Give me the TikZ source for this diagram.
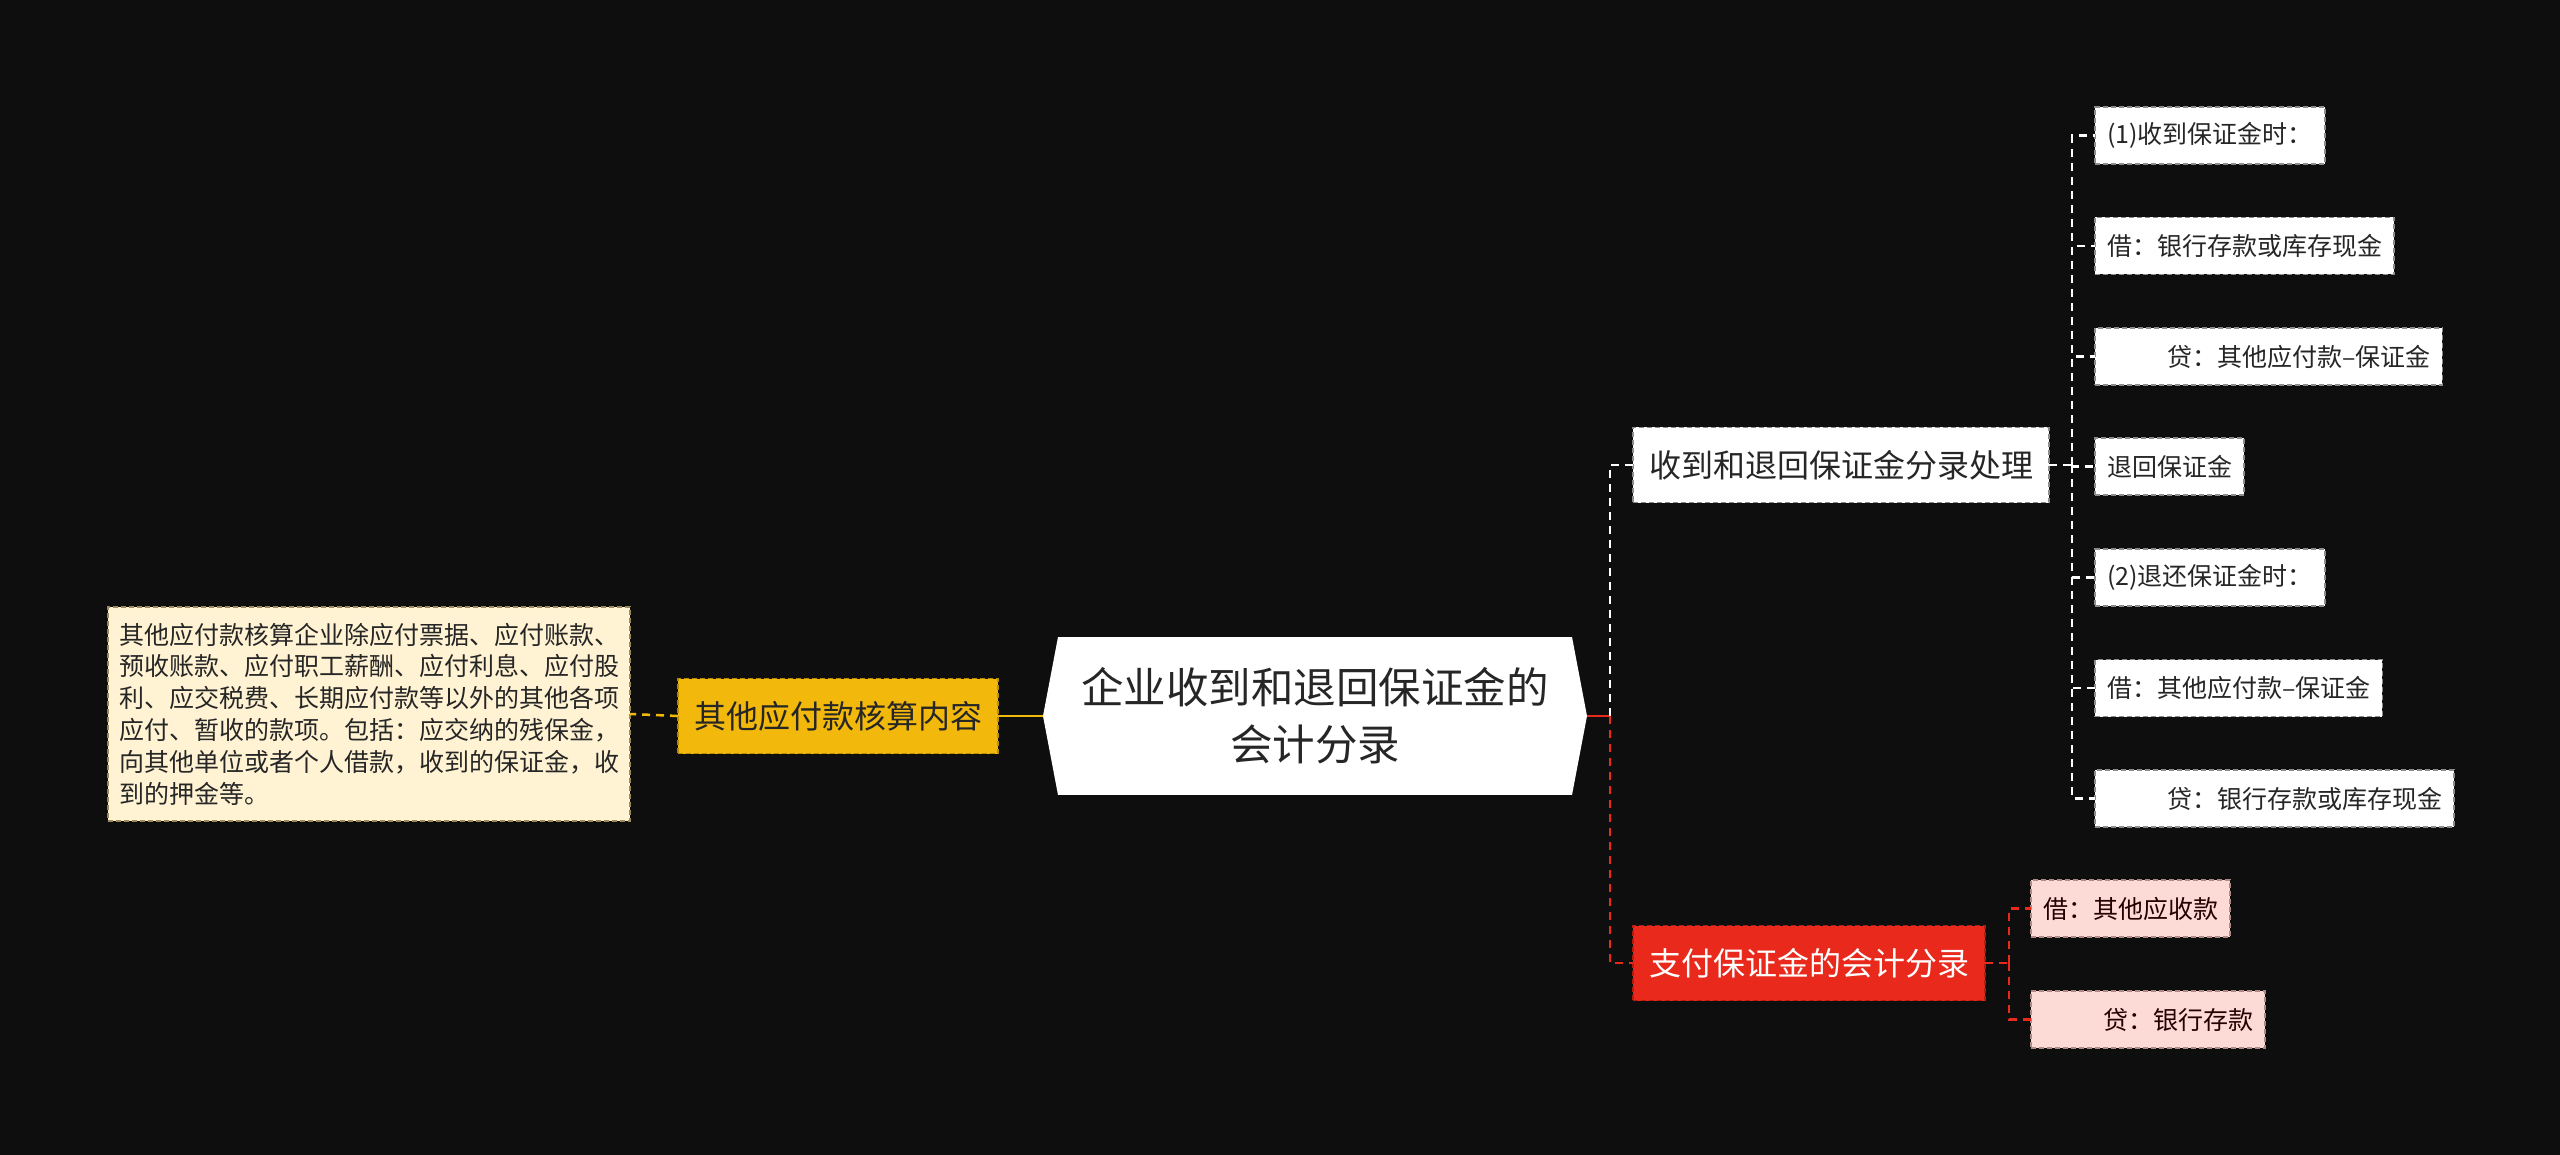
\documentclass[tikz,border=0pt]{standalone}
\usepackage{fontspec}
\usepackage{tikz}
\usetikzlibrary{calc}
\newfontfamily\cjk{Noto Sans CJK SC}

\definecolor{bgdark}{HTML}{0E0E0E}
\definecolor{txtdark}{HTML}{262626}
\definecolor{yel}{HTML}{F2B90C}
\definecolor{yelborder}{HTML}{B88A00}
\definecolor{cream}{HTML}{FFF3D3}
\definecolor{creamborder}{HTML}{9C8A5C}
\definecolor{redfill}{HTML}{E8291C}
\definecolor{redborder}{HTML}{B01C12}
\definecolor{pink}{HTML}{FCDBD7}
\definecolor{pinkborder}{HTML}{B08A86}
\definecolor{greyborder}{HTML}{8C8C8C}

\begin{document}
\begin{tikzpicture}[
    x=1pt, y=-1pt,
    every node/.style={inner sep=0pt, outer sep=0pt},
    boxline/.style={dash pattern=on 5pt off 3pt, line width=1.5pt},
    rootbox/.style={rectangle, fill=white, minimum width=514pt, minimum height=158pt, align=center, text=txtdark, font=\cjk\fontsize{42.5}{57}\selectfont},
    notebox/.style={rectangle, boxline, draw=creamborder, fill=cream, text width=500pt, inner xsep=11pt, minimum height=214pt, align=left, text=txtdark, font=\cjk\fontsize{25}{31.8}\selectfont},
    yelbox/.style={rectangle, boxline, draw=yelborder, fill=yel, minimum height=75pt, inner xsep=16pt, text=txtdark, font=\cjk\fontsize{32}{38}\selectfont},
    whitebox/.style={rectangle, boxline, draw=greyborder, fill=white, minimum height=75pt, inner xsep=16pt, text=txtdark, font=\cjk\fontsize{32}{38}\selectfont},
    redbox/.style={rectangle, boxline, draw=redborder, fill=redfill, minimum height=75pt, inner xsep=16pt, text=white, font=\cjk\fontsize{32}{38}\selectfont},
    leaf/.style={rectangle, boxline, draw=greyborder, fill=white, minimum height=57pt, inner xsep=12pt, anchor=west, text=txtdark, font=\cjk\fontsize{25}{30}\selectfont},
    pinkleaf/.style={leaf, draw=pinkborder, fill=pink, text=black!85!red},
    wline/.style={draw=white, line width=2.5pt, dash pattern=on 8pt off 6pt},
    rline/.style={draw=redfill, line width=2.5pt, dash pattern=on 8pt off 6pt},
    yline/.style={draw=yel, line width=2.5pt}
]
\useasboundingbox (0,0) rectangle (2560,1155);
\fill[bgdark] (0,0) rectangle (2560,1155);

% centre topic
\node[rootbox] (root) at (1315,716) {企业收到和退回保证金的\\会计分录};
\coordinate (rootL) at ($(root.west)+(-15,0)$);
\coordinate (rootR) at ($(root.east)+(15,0)$);
\fill[white] (root.north west) -- (rootL) -- (root.south west) -- cycle;
\fill[white] (root.north east) -- (rootR) -- (root.south east) -- cycle;

% left branch
\node[yelbox] (other) at (838,716) {其他应付款核算内容};
\node[notebox] (note) at (369,714) {其他应付款核算企业除应付票据、应付账款、\\预收账款、应付职工薪酬、应付利息、应付股\\利、应交税费、长期应付款等以外的其他各项\\应付、暂收的款项。包括：应交纳的残保金，\\向其他单位或者个人借款，收到的保证金，收\\到的押金等。};

% right branches
\node[whitebox, anchor=west] (recv) at (1633,465) {收到和退回保证金分录处理};
\node[redbox, anchor=west] (pay) at (1633,963) {支付保证金的会计分录};

% leaves of recv
\node[leaf] (r1) at (2095,135.5) {(1)收到保证金时：};
\node[leaf] (r2) at (2095,246) {借：银行存款或库存现金};
\node[leaf] (r3) at (2095,356.5) {\hspace*{60pt}贷：其他应付款–保证金};
\node[leaf] (r4) at (2095,466.5) {退回保证金};
\node[leaf] (r5) at (2095,577.5) {(2)退还保证金时：};
\node[leaf] (r6) at (2095,688) {借：其他应付款–保证金};
\node[leaf] (r7) at (2095,798.5) {\hspace*{60pt}贷：银行存款或库存现金};

% leaves of pay
\node[pinkleaf] (p1) at (2031,908.5) {借：其他应收款};
\node[pinkleaf] (p2) at (2031,1019.5) {\hspace*{60pt}贷：银行存款};

% connectors
\draw[yline] (rootL) -- (other.east);
\draw[yline, dash pattern=on 8pt off 6pt] (other.west) -- (note.east);

\coordinate (jr) at ($(rootR)+(23,0)$);
\draw[draw=redfill, line width=2.5pt] (rootR) -- (jr);
\draw[wline] (jr) |- (recv.west);
\draw[rline] (jr) |- (pay.west);

\coordinate (ja) at ($(recv.east)+(23,0)$);
\draw[wline] (recv.east) -- (ja);
\draw[wline] (ja) |- (r1.west);
\draw[wline] (ja) |- (r2.west);
\draw[wline] (ja) |- (r3.west);
\draw[wline] (ja) |- (r4.west);
\draw[wline] (ja) |- (r5.west);
\draw[wline] (ja) |- (r6.west);
\draw[wline] (ja) |- (r7.west);

\coordinate (jb) at ($(pay.east)+(24,0)$);
\draw[rline] (pay.east) -- (jb);
\draw[rline] (jb) |- (p1.west);
\draw[rline] (jb) |- (p2.west);
\end{tikzpicture}
\end{document}
